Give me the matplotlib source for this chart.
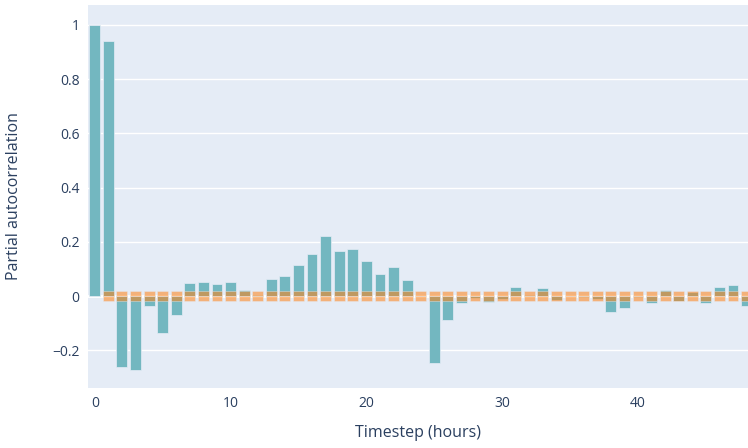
import matplotlib.pyplot as plt
import numpy as np

# partial autocorrelation per lag (hours)
lags = list(range(49))
pacf_values = [
    1.0, 0.941, -0.262, -0.271, -0.038, -0.138, -0.069, 0.049, 0.053, 0.043,
    0.053, 0.023, 0.003, 0.064, 0.074, 0.115, 0.156, 0.220, 0.167, 0.173,
    0.130, 0.080, 0.109, 0.058, 0.002, -0.248, -0.088, -0.027, -0.006, -0.021,
    -0.012, 0.034, 0.004, 0.031, -0.015, 0.002, -0.003, -0.010, -0.060, -0.043,
    -0.005, -0.027, 0.021, -0.018, 0.016, -0.027, 0.034, 0.039, -0.037,
]
conf_lags = lags[1:]
conf_upper = [0.02] * len(conf_lags)
conf_lower = [-0.02] * len(conf_lags)

y_ticks = [-0.2, 0, 0.2, 0.4, 0.6, 0.8, 1]
y_tick_labels = ['\u22120.2', '0', '0.2', '0.4', '0.6', '0.8', '1']
x_ticks = [0, 10, 20, 30, 40]

text_color = '#2a3f5f'
bg_color = '#E5ECF6'

plt.rcParams['font.family'] = ['Open Sans', 'DejaVu Sans']

fig = plt.figure(figsize=(7.48, 4.48), dpi=100)
ax = fig.add_axes([0.1176, 0.134, 0.8824, 0.855])
ax.set_facecolor(bg_color)

ax.bar(lags, pacf_values, width=0.8, color='#73b7c0',
       edgecolor=bg_color, linewidth=0.5, zorder=2)
ax.bar(conf_lags, conf_upper, width=0.8, color='#ff8214', alpha=0.55,
       edgecolor=bg_color, linewidth=0.5, zorder=3)
ax.bar(conf_lags, conf_lower, width=0.8, color='#ff8214', alpha=0.55,
       edgecolor=bg_color, linewidth=0.5, zorder=3)

ax.set_xlim(-0.5, 48.1)
ax.set_ylim(-0.339, 1.074)

ax.set_yticks(y_ticks)
ax.set_yticklabels(y_tick_labels)
ax.set_xticks(x_ticks)
ax.grid(True, axis='y', color='white', linewidth=1, zorder=0)
ax.set_axisbelow(True)
ax.axhline(0, color='white', linewidth=2, zorder=1)

for spine in ax.spines.values():
    spine.set_visible(False)
ax.tick_params(length=0, labelsize=10, colors=text_color, pad=6)

ax.set_xlabel('Timestep (hours)', fontsize=11.5, color=text_color, labelpad=10)
ax.set_ylabel('Partial autocorrelation', fontsize=11.5, color=text_color, labelpad=22)

fig.savefig('out.png', dpi=100, facecolor='white')
